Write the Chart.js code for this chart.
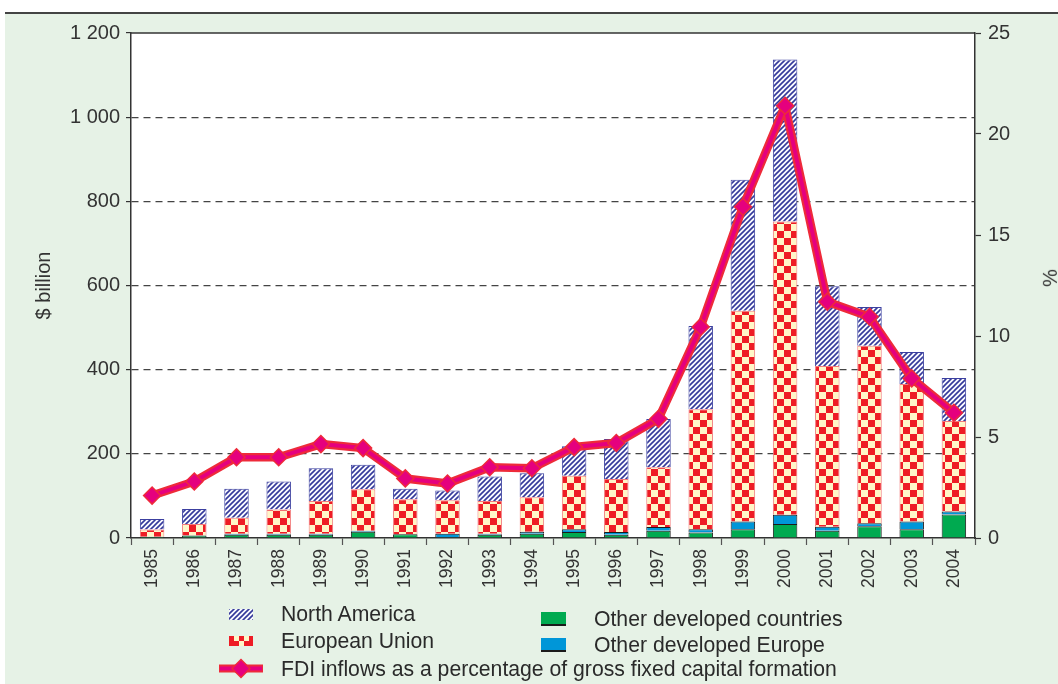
<!DOCTYPE html>
<html>
<head>
<meta charset="utf-8">
<script src="https://cdn.jsdelivr.net/npm/chart.js@4.4.1/dist/chart.umd.min.js"></script>
<style>
  body { margin: 0; background: #fff; font-family: "Liberation Sans", Arial, sans-serif; }
  #wrap { position: relative; width: 1058px; height: 684px; overflow: hidden; }
  #panel { position: absolute; left: 5px; top: 12px; right: 0; bottom: 0; background: #e6f2e6; border-top: 2px solid #444; }
  #chart { position: absolute; left: 0; top: 0; }
  .lg { position: absolute; font-size: 21.2px; line-height: 24px; color: #2a2a2a; white-space: nowrap; }
  .sw { position: absolute; }
  #pct { position: absolute; left: 1041px; top: 266px; font-size: 20px; line-height: 24px; color: #333; transform: rotate(-90deg); }
</style>
</head>
<body>
<div id="wrap">
  <div id="panel"></div>
  <canvas id="chart" width="1058" height="684"></canvas>
  <div id="pct">%</div>
  <div id="legend"></div>
</div>
<script>
// values ($ billion and %)
var years = ['1985','1986','1987','1988','1989','1990','1991','1992','1993','1994',
             '1995','1996','1997','1998','1999','2000','2001','2002','2003','2004'];
var otherDevCountries = [3, 6, 8, 8, 8, 15, 9, 2, 8, 10, 14, 8, 17, 13, 21, 33, 17, 28, 21, 56];
var otherDevEurope    = [0, 0, 2, 2, 2, 2, 0, 8, 2, 5, 7, 6, 9, 8, 18, 22, 10, 7, 18, 7];
var europeanUnion     = [17, 27, 38, 58, 78, 99, 83, 80, 78, 82, 127, 126, 142, 285, 501, 697, 382, 422, 327, 215];
var northAmerica      = [25, 36, 69, 66, 78, 58, 25, 23, 58, 57, 70, 95, 115, 198, 311, 385, 189, 92, 76, 102];
var fdiShare = [2.1, 2.8, 4.0, 4.0, 4.65, 4.45, 2.95, 2.7, 3.5, 3.45,
                4.5, 4.7, 5.9, 10.45, 16.4, 21.4, 11.7, 10.95, 7.9, 6.2];

var GREEN = '#00aa50', BLUE = '#0096d8', MAGENTA = '#e5007e', RED = '#ee2a3a';

function hatchPattern(ctx) {
  var t = document.createElement('canvas');
  t.width = 5; t.height = 5;
  var c = t.getContext('2d');
  c.fillStyle = '#fbfbff';
  c.fillRect(0, 0, 5, 5);
  c.strokeStyle = '#353a9b';
  c.lineWidth = 1.6;
  c.beginPath();
  c.moveTo(-1, 6); c.lineTo(6, -1);
  c.moveTo(-1, 1); c.lineTo(1, -1);
  c.moveTo(4, 6); c.lineTo(6, 4);
  c.stroke();
  return ctx.createPattern(t, 'repeat');
}

function checkerPattern(ctx, cell) {
  cell = cell || 7;
  var t = document.createElement('canvas');
  t.width = cell * 2; t.height = cell * 2;
  var c = t.getContext('2d');
  c.fillStyle = '#fff6c8';
  c.fillRect(0, 0, cell * 2, cell * 2);
  c.fillStyle = '#ee1c25';
  c.fillRect(0, 0, cell, cell);
  c.fillRect(cell, cell, cell, cell);
  return ctx.createPattern(t, 'repeat');
}

function spaced(v) {
  return String(v).replace(/\B(?=(\d{3})+(?!\d))/g, ' ');
}

// white plot area + top frame line
var plotFrame = {
  id: 'plotFrame',
  beforeDraw: function(chart) {
    var a = chart.chartArea, ctx = chart.ctx;
    ctx.save();
    ctx.fillStyle = '#fff';
    ctx.fillRect(a.left, a.top, a.right - a.left, a.bottom - a.top);
    ctx.restore();
  },
  afterDraw: function(chart) {
    var a = chart.chartArea, ctx = chart.ctx;
    ctx.save();
    ctx.strokeStyle = '#333';
    ctx.lineWidth = 1.5;
    ctx.beginPath();
    ctx.moveTo(a.left, a.top);
    ctx.lineTo(a.right, a.top);
    ctx.stroke();
    ctx.restore();
  }
};

var canvas = document.getElementById('chart');
var ctx = canvas.getContext('2d');

var myChart = new Chart(ctx, {
  type: 'bar',
  data: {
    labels: years,
    datasets: [
      {
        type: 'line', label: 'FDI inflows as a percentage of gross fixed capital formation',
        data: fdiShare, yAxisID: 'y2', order: 0,
        borderColor: MAGENTA, borderWidth: 4, borderJoinStyle: 'round',
        pointStyle: 'rectRot', pointRadius: 8.5, pointBackgroundColor: MAGENTA,
        pointBorderColor: RED, pointBorderWidth: 1.5
      },
      {
        type: 'line', label: 'outline', data: fdiShare, yAxisID: 'y2', order: 1,
        borderColor: RED, borderWidth: 8.5, borderJoinStyle: 'round', pointRadius: 0
      },
      { label: 'Other developed countries', data: otherDevCountries, order: 2,
        backgroundColor: GREEN, borderColor: '#1b1b1b', borderWidth: 1 },
      { label: 'Other developed Europe', data: otherDevEurope, order: 2,
        backgroundColor: BLUE, borderColor: '#1b1b1b', borderWidth: 1 },
      { label: 'European Union', data: europeanUnion, order: 2,
        backgroundColor: checkerPattern(ctx), borderColor: '#f27a7a', borderWidth: 1 },
      { label: 'North America', data: northAmerica, order: 2,
        backgroundColor: hatchPattern(ctx), borderColor: '#3c40a0', borderWidth: 1 }
    ]
  },
  options: {
    responsive: false,
    animation: false,
    layout: { padding: { top: 33, left: 0, right: 0, bottom: 0 } },
    datasets: { bar: { categoryPercentage: 1, barPercentage: 0.58 } },
    plugins: { legend: { display: false }, tooltip: { enabled: false } },
    scales: {
      x: {
        stacked: true,
        grid: { offset: true, drawOnChartArea: false, tickLength: 7, tickColor: '#555', tickWidth: 1.2 },
        border: { color: '#333', width: 1.5 },
        ticks: { minRotation: 90, maxRotation: 90, autoSkip: false, padding: 4,
                 color: '#333', font: { family: '"Liberation Sans", Arial, sans-serif', size: 17.5 } },
        afterFit: function(s) { s.height = 146; }
      },
      y: {
        position: 'left', stacked: true, min: 0, max: 1200,
        ticks: { stepSize: 200, padding: 6, color: '#333',
                 font: { family: '"Liberation Sans", Arial, sans-serif', size: 20 },
                 callback: function(v) { return spaced(v); } },
        grid: {
          color: function(c) { return (c.tick && (c.tick.value === 0 || c.tick.value === 1200)) ? 'rgba(0,0,0,0)' : '#444'; },
          lineWidth: 1.2, tickLength: 5, tickColor: '#333', tickWidth: 1.2, tickBorderDash: []
        },
        border: { color: '#333', width: 1.5, dash: [7, 5] },
        title: { display: true, text: '$ billion', color: '#333',
                 font: { family: '"Liberation Sans", Arial, sans-serif', size: 20 },
                 padding: { top: 32, bottom: 0 } },
        afterFit: function(s) { s.width = 131; }
      },
      y2: {
        position: 'right', min: 0, max: 25,
        ticks: { stepSize: 5, padding: 7, color: '#333',
                 font: { family: '"Liberation Sans", Arial, sans-serif', size: 20 } },
        grid: { drawOnChartArea: false, tickLength: 6, tickColor: '#333', tickWidth: 1.2 },
        border: { color: '#333', width: 1.5 },
        afterFit: function(s) { s.width = 83; }
      }
    }
  },
  plugins: [plotFrame]
});

// legend built from the chart's datasets
function byLabel(name) {
  return myChart.data.datasets.filter(function(d) { return d.label === name; })[0];
}

var legendItems = [
  { ds: byLabel('North America'), kind: 'hatch', sx: 229, sy: 609, w: 24, h: 11, tx: 281, ty: 602 },
  { ds: byLabel('European Union'), kind: 'checker', sx: 229, sy: 636, w: 24, h: 10, tx: 281, ty: 629 },
  { ds: byLabel('Other developed countries'), kind: GREEN, sx: 541, sy: 612, w: 25, h: 14, tx: 594, ty: 607 },
  { ds: byLabel('Other developed Europe'), kind: BLUE, sx: 541, sy: 638, w: 25, h: 14, tx: 594, ty: 633 },
  { ds: myChart.data.datasets[0], kind: 'line', sx: 217, sy: 658, w: 48, h: 21, tx: 281, ty: 657 }
];

var legendEl = document.getElementById('legend');
legendItems.forEach(function(it) {
  var sw = document.createElement('canvas');
  sw.className = 'sw';
  sw.width = it.w; sw.height = it.h;
  sw.style.left = it.sx + 'px';
  sw.style.top = it.sy + 'px';
  var c = sw.getContext('2d');
  if (it.kind === 'hatch') {
    c.fillStyle = hatchPattern(c);
    c.fillRect(0, 0, it.w, it.h);
  } else if (it.kind === 'checker') {
    c.fillStyle = '#ee1c25';
    c.fillRect(0, 0, it.w, it.h);
    c.fillStyle = '#fff6c8';
    c.fillRect(5, 0, 5, 5); c.fillRect(15, 0, 5, 5);
    c.fillRect(10, 5, 5, 5);
  } else if (it.kind === 'line') {
    var my = it.h / 2, mx = it.w / 2;
    c.lineCap = 'butt';
    c.strokeStyle = RED; c.lineWidth = 8;
    c.beginPath(); c.moveTo(2, my); c.lineTo(it.w - 2, my); c.stroke();
    c.strokeStyle = MAGENTA; c.lineWidth = 4;
    c.beginPath(); c.moveTo(3, my); c.lineTo(it.w - 3, my); c.stroke();
    c.fillStyle = MAGENTA; c.strokeStyle = RED; c.lineWidth = 1.5;
    c.beginPath();
    c.moveTo(mx - 9, my); c.lineTo(mx, my - 9); c.lineTo(mx + 9, my); c.lineTo(mx, my + 9);
    c.closePath(); c.fill(); c.stroke();
  } else {
    c.fillStyle = it.kind;
    c.fillRect(0, 0, it.w, it.h);
    c.fillStyle = '#1b1b1b';
    c.fillRect(0, it.h - 2, it.w, 2);
  }
  legendEl.appendChild(sw);

  var tx = document.createElement('div');
  tx.className = 'lg';
  tx.style.left = it.tx + 'px';
  tx.style.top = it.ty + 'px';
  tx.textContent = it.ds.label;
  legendEl.appendChild(tx);
});
</script>
</body>
</html>
